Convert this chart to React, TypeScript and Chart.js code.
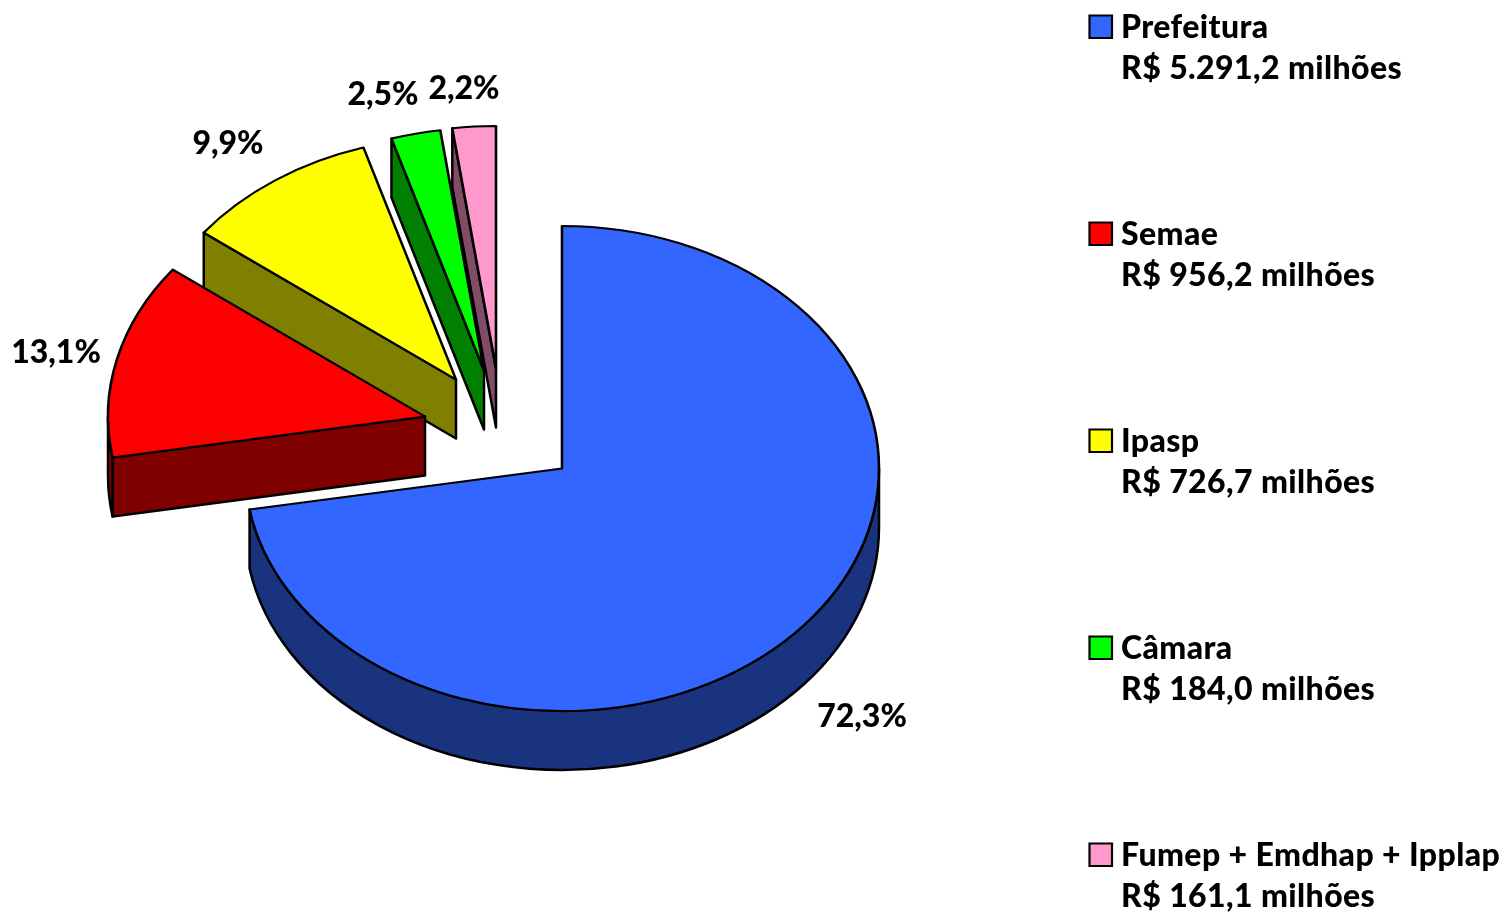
import React, { useEffect, useRef } from "react";
import { Chart, registerables } from "chart.js";

Chart.register(...registerables);

const names = ["Prefeitura", "Semae", "Ipasp", "Câmara", "Fumep + Emdhap + Ipplap"];
const amounts = [5291.2, 956.2, 726.7, 184.0, 161.1];
const amountLabels = [
  "R$ 5.291,2 milhões",
  "R$ 956,2 milhões",
  "R$ 726,7 milhões",
  "R$ 184,0 milhões",
  "R$ 161,1 milhões",
];
const topColors = ["#3366FF", "#FF0000", "#FFFF00", "#00FF00", "#FF99CC"];
const wallColors = ["#1A337F", "#800000", "#808000", "#008000", "#804C66"];

// Where each slice's apex has been pulled to, relative to the pie centre (screen px)
const explodeX = [0, -137, -106, -78, -66];
const explodeY = [0, -52, -89, -98, -100];
// Percent label centres
const pctX = [862, 56, 228, 383, 464];
const pctY = [717, 353, 144, 95, 89];

const SQUASH = 242.5 / 317;
const DEPTH = 59;
const FONT = '900 32px Lato, "Open Sans", sans-serif';
const LEGEND_X = 1089.5;
const LEGEND_TOP = 15.5;
const LEGEND_STEP = 207;

const pie3d = {
  id: "pie3d",
  afterDatasetsUpdate(chart: any) {
    chart.getDatasetMeta(0).data.forEach((arc: any, i: number) => {
      arc.$pivot = arc.y;
      arc.x = arc.x + explodeX[i];
      arc.y = arc.y + explodeY[i] / SQUASH;
    });
  },
  beforeDatasetDraw(chart: any) {
    const ctx = chart.ctx;
    const arcs = chart.getDatasetMeta(0).data;
    for (let i = arcs.length - 1; i >= 0; i--) {
      const arc = arcs[i];
      const pivot = arc.$pivot;
      const { startAngle: s, endAngle: e, outerRadius: r, x } = arc;
      const y = pivot + (arc.y - pivot) * SQUASH;
      ctx.save();
      ctx.fillStyle = wallColors[i];
      ctx.strokeStyle = "#000";
      ctx.lineWidth = 2.5;
      ctx.lineJoin = "round";
      const radial = (a: number) => {
        const px = x + r * Math.cos(a);
        const py = y + r * SQUASH * Math.sin(a);
        ctx.beginPath();
        ctx.moveTo(x, y);
        ctx.lineTo(px, py);
        ctx.lineTo(px, py + DEPTH);
        ctx.lineTo(x, y + DEPTH);
        ctx.closePath();
        ctx.fill();
        ctx.stroke();
      };
      if (Math.cos(s) < -1e-6) radial(s);
      if (Math.cos(e) > 1e-6) radial(e);
      for (let k = -1; k <= 1; k++) {
        const lo = Math.max(s, 2 * Math.PI * k);
        const hi = Math.min(e, Math.PI + 2 * Math.PI * k);
        if (hi <= lo) continue;
        ctx.beginPath();
        ctx.ellipse(x, y, r, r * SQUASH, 0, lo, hi, false);
        ctx.ellipse(x, y + DEPTH, r, r * SQUASH, 0, hi, lo, true);
        ctx.closePath();
        ctx.fill();
        ctx.stroke();
      }
      ctx.translate(0, pivot);
      ctx.scale(1, SQUASH);
      ctx.translate(0, -pivot);
      arc.draw(ctx);
      ctx.restore();
    }
    return false;
  },
  afterDraw(chart: any) {
    const ctx = chart.ctx;
    const total = amounts.reduce((a, b) => a + b, 0);
    ctx.save();
    ctx.font = FONT;
    ctx.fillStyle = "#000";
    ctx.textBaseline = "middle";
    ctx.textAlign = "center";
    amounts.forEach((v, i) => {
      ctx.fillText(((v / total) * 100).toFixed(1).replace(".", ",") + "%", pctX[i], pctY[i]);
    });
    ctx.textAlign = "left";
    ctx.letterSpacing = "0.4px";
    names.forEach((n, i) => {
      const top = LEGEND_TOP + i * LEGEND_STEP;
      ctx.fillStyle = topColors[i];
      ctx.strokeStyle = "#000";
      ctx.lineWidth = 2.2;
      ctx.beginPath();
      ctx.rect(LEGEND_X, top, 22.5, 22.5);
      ctx.fill();
      ctx.stroke();
      ctx.fillStyle = "#000";
      ctx.fillText(n, 1121, top + 12.5);
      ctx.fillText(amountLabels[i], 1121, top + 53.5);
    });
    ctx.restore();
  },
};

export default function App() {
  const ref = useRef<HTMLCanvasElement>(null);
  useEffect(() => {
    const chart = new Chart(ref.current!, {
      type: "pie",
      data: {
        labels: names,
        datasets: [
          {
            data: amounts,
            backgroundColor: topColors,
            borderColor: "#000",
            borderWidth: 2.6,
            borderJoinStyle: "round",
          } as any,
        ],
      },
      options: {
        responsive: false,
        animation: false,
        radius: 317,
        layout: { padding: { left: 116, right: 500, top: 24, bottom: 0 } },
        plugins: { legend: { display: false }, tooltip: { enabled: false } },
      } as any,
      plugins: [pie3d as any],
    });
    return () => chart.destroy();
  }, []);
  return (
    <canvas
      ref={ref}
      width={1508}
      height={913}
      style={{ position: "absolute", left: 0, top: 0, display: "block", background: "#fff" }}
    />
  );
}
